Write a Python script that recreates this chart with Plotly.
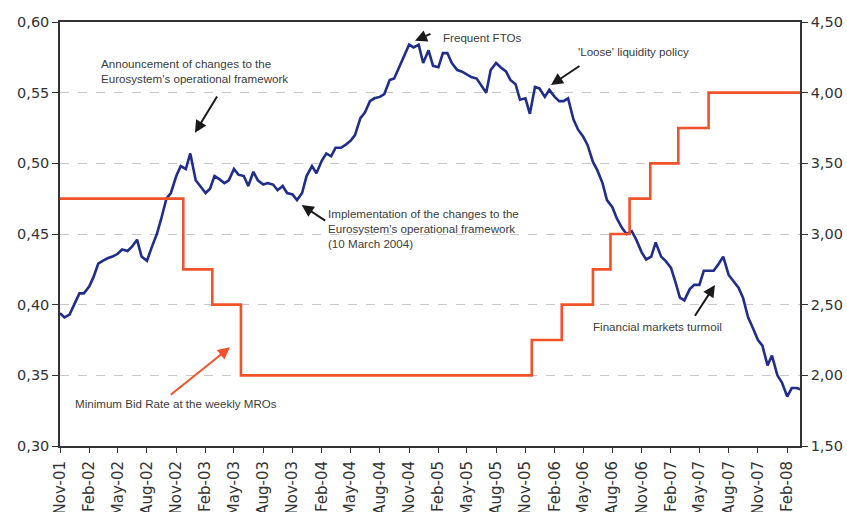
import pandas as pd
import plotly.graph_objects as go

# Blue series: semi-monthly readings (1st and 15th of each month), Nov-01 .. Mar-08
rate = [
    0.394, 0.391, 0.393, 0.400, 0.408, 0.408, 0.413, 0.420, 0.429, 0.431,
    0.433, 0.434, 0.436, 0.439, 0.438, 0.441, 0.446, 0.434, 0.431, 0.440,
    0.450, 0.461, 0.475, 0.479, 0.491, 0.498, 0.496, 0.507, 0.488, 0.484,
    0.479, 0.482, 0.491, 0.489, 0.486, 0.488, 0.496, 0.492, 0.491, 0.484,
    0.494, 0.488, 0.485, 0.486, 0.485, 0.481, 0.484, 0.479, 0.478, 0.474,
    0.479, 0.491, 0.498, 0.493, 0.502, 0.507, 0.505, 0.511, 0.511, 0.513,
    0.516, 0.520, 0.532, 0.536, 0.544, 0.546, 0.547, 0.549, 0.559, 0.560,
    0.568, 0.575, 0.584, 0.582, 0.584, 0.571, 0.580, 0.569, 0.568, 0.578,
    0.578, 0.571, 0.566, 0.565, 0.563, 0.561, 0.560, 0.555, 0.550, 0.566,
    0.571, 0.568, 0.565, 0.559, 0.556, 0.545, 0.546, 0.535, 0.554, 0.553,
    0.547, 0.552, 0.547, 0.544, 0.544, 0.546, 0.531, 0.524, 0.519, 0.513,
    0.501, 0.495, 0.486, 0.474, 0.469, 0.461, 0.454, 0.450, 0.452, 0.446,
    0.437, 0.432, 0.434, 0.444, 0.434, 0.431, 0.426, 0.416, 0.405, 0.403,
    0.411, 0.414, 0.414, 0.424, 0.424, 0.424, 0.429, 0.434, 0.421, 0.417,
    0.412, 0.405, 0.391, 0.384, 0.375, 0.371, 0.357, 0.364, 0.350, 0.345,
    0.335, 0.341, 0.341, 0.340,
]
rate_dates = pd.date_range("2001-11-01", periods=len(rate), freq="SMS")

# Minimum bid rate (right axis), step changes
mbr_dates = ["2001-11-01", "2002-11-23", "2003-02-22", "2003-05-23", "2005-11-21",
             "2006-02-23", "2006-06-01", "2006-07-26", "2006-09-24", "2006-11-28",
             "2007-02-24", "2007-05-30", "2008-03-15"]
mbr_vals = [3.25, 2.75, 2.50, 2.00, 2.25, 2.50, 2.75, 3.00, 3.25, 3.50, 3.75, 4.00, 4.00]

BLUE = "#1f2d8c"
RED = "#f0532a"
TXT = "#3c3c3c"
AX = "#333333"

fig = go.Figure()
fig.add_trace(go.Scatter(x=mbr_dates, y=mbr_vals, yaxis="y2", mode="lines",
                         line=dict(color=RED, width=2.6, shape="hv"), showlegend=False))
fig.add_trace(go.Scatter(x=rate_dates, y=rate, mode="lines",
                         line=dict(color=BLUE, width=2.6), showlegend=False))

tickfont = dict(family="DejaVu Sans", size=14.5, color=AX)
xtickfont = dict(family="DejaVu Sans", size=15, color=AX)

fig.update_layout(
    width=847, height=512,
    margin=dict(l=60, r=47, t=22, b=66, autoexpand=False),
    paper_bgcolor="white", plot_bgcolor="white",
    separators=", ",
    xaxis=dict(type="date", range=["2001-11-01", "2008-03-12"],
               tick0="2001-11-01", dtick="M3", tickformat="%b-%y",
               tickangle=-90, tickfont=xtickfont, ticks="outside", ticklen=5,
               ticklabelstandoff=2,
               tickcolor=AX, showline=True, linecolor=AX, linewidth=2,
               mirror=True, showgrid=False, automargin=False, zeroline=False),
    yaxis=dict(range=[0.30, 0.60], dtick=0.05, tick0=0.30, tickformat=".2f",
               tickfont=tickfont, ticks="outside", ticklen=6, tickcolor=AX,
               showline=True, linecolor=AX, linewidth=1.5,
               showgrid=True, gridcolor="#c8c8c8", griddash="dash", gridwidth=1,
               zeroline=False, automargin=False),
    yaxis2=dict(range=[1.50, 4.50], dtick=0.5, tick0=1.5, tickformat=".2f",
                overlaying="y", side="right", tickfont=tickfont,
                ticks="outside", ticklen=6, tickcolor=AX, showline=True,
                linecolor=AX, linewidth=1.5, showgrid=False, zeroline=False,
                automargin=False),
)

afont = dict(family="Liberation Sans, Arial", size=11.6, color=TXT)

def text(lines, x, ytop, spacing=0.0354):
    for k, s in enumerate(lines):
        fig.add_annotation(xref="paper", yref="paper", x=x, y=ytop - k * spacing,
                           text=s, showarrow=False, xanchor="left", yanchor="middle",
                           font=afont, borderpad=0)

def arrow(x, y, ax, ay, color="#1a1a1a"):
    fig.add_annotation(xref="paper", yref="paper", x=x, y=y, ax=ax, ay=ay,
                       text="", showarrow=True, arrowhead=2, arrowsize=1.2,
                       arrowwidth=2, arrowcolor=color, standoff=0)

text(["Announcement of changes to the", "Eurosystem's operational framework"], 0.0541, 0.901)
arrow(0.1824, 0.7389, 23, -37.7)

text(["Frequent FTOs"], 0.5162, 0.9623)
arrow(0.4797, 0.9559, 17, -7.4)

text(["'Loose' liquidity policy"], 0.6982, 0.930)
arrow(0.6635, 0.8514, 30, -20)

text(["Implementation of the changes to the", "Eurosystem's operational framework",
      "(10 March 2004)"], 0.3604, 0.549)
arrow(0.3266, 0.5684, 25, 16.7)

text(["Financial markets turmoil"], 0.7185, 0.2814)
arrow(0.8851, 0.3797, -21, 32.3)

text(["Minimum Bid Rate at the weekly MROs"], 0.0189, 0.1007)
arrow(0.2297, 0.2328, -60.7, 48.7, color=RED)

fig.write_html("out.html", config={"displayModeBar": False},
               post_script="document.body.style.margin='0';")
